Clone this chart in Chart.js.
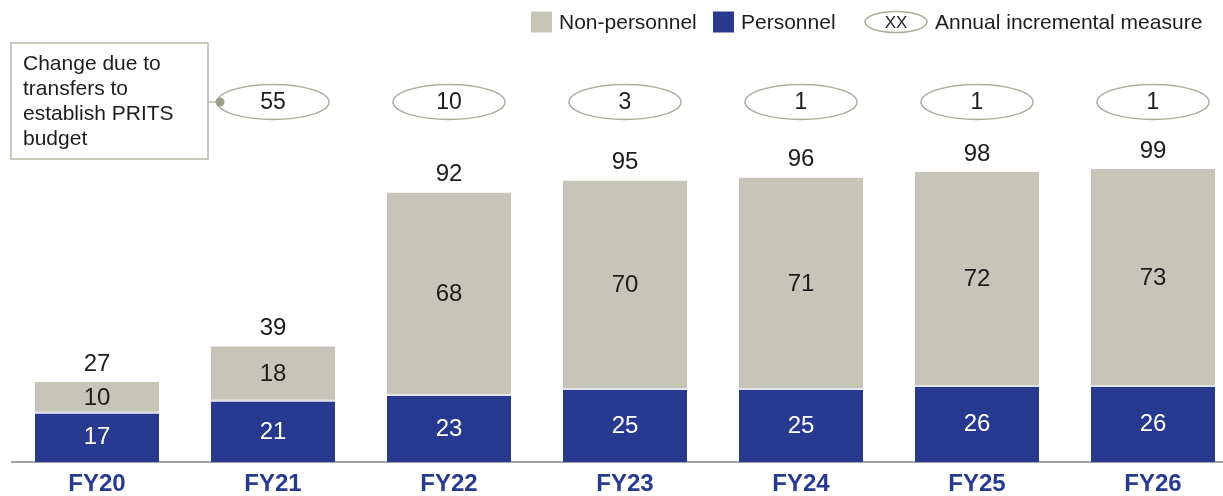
<!DOCTYPE html>
<html>
<head>
<meta charset="utf-8">
<title>Budget by fiscal year</title>
<script src="https://cdn.jsdelivr.net/npm/chart.js@4.4.1/dist/chart.umd.min.js"></script>
<style>
  html, body { margin: 0; padding: 0; background: #fff; }
  #wrap { position: relative; width: 1223px; height: 496px; }
</style>
</head>
<body>
<div id="wrap"><canvas id="budgetChart"></canvas></div>
<script>
// ── Data ──────────────────────────────────────────────────────────────────────
const years        = ['FY20', 'FY21', 'FY22', 'FY23', 'FY24', 'FY25', 'FY26'];
const personnel    = [17, 21, 23, 25, 25, 26, 26];
const nonPersonnel = [10, 18, 68, 70, 71, 72, 73];
const totals       = [27, 39, 92, 95, 96, 98, 99];
const increments   = [null, 55, 10, 3, 1, 1, 1];
const noteLines    = ['Change due to', 'transfers to', 'establish PRITS', 'budget'];

const FONT    = '"Liberation Sans", Arial, Helvetica, sans-serif';
const BLUE    = '#283a90';
const GREY    = '#c6c5b8';
const OUTLINE = '#adac9c';
const INK     = '#1c1c1c';

// ── Baseline across the full width ────────────────────────────────────────────
const baseline = {
  id: 'baseline',
  beforeDatasetsDraw(chart) {
    const ctx = chart.ctx;
    const y = chart.scales.y.getPixelForValue(0);
    ctx.save();
    ctx.strokeStyle = '#a3a3a3';
    ctx.lineWidth = 2;
    ctx.beginPath();
    ctx.moveTo(11, y);
    ctx.lineTo(chart.width, y);
    ctx.stroke();
    ctx.restore();
  }
};

// ── Segment values and totals ─────────────────────────────────────────────────
const barLabels = {
  id: 'barLabels',
  afterDatasetsDraw(chart) {
    const ctx = chart.ctx;
    ctx.save();
    ctx.textAlign = 'center';
    ctx.textBaseline = 'middle';
    ctx.font = '24px ' + FONT;
    chart.data.datasets.forEach(function(ds, di) {
      chart.getDatasetMeta(di).data.forEach(function(bar, i) {
        ctx.fillStyle = ds.labelColor;
        ctx.fillText(ds.data[i], bar.x, (bar.y + bar.base) / 2 + 1);
      });
    });
    ctx.fillStyle = INK;
    chart.getDatasetMeta(1).data.forEach(function(bar, i) {
      ctx.fillText(totals[i], bar.x, bar.y - 18);
    });
    ctx.restore();
  }
};

// ── Incremental measure ovals + note box ──────────────────────────────────────
const measures = {
  id: 'measures',
  afterDraw(chart) {
    const ctx = chart.ctx, xs = chart.scales.x;
    const cy = 102, rx = 56, ry = 17.5;
    ctx.save();
    ctx.lineWidth = 1.5;
    ctx.strokeStyle = OUTLINE;
    ctx.fillStyle = INK;
    ctx.textAlign = 'center';
    ctx.textBaseline = 'middle';
    ctx.font = '23px ' + FONT;
    var firstLeft = null;
    increments.forEach(function(v, i) {
      if (v === null) return;
      var cx = xs.getPixelForValue(i);
      if (firstLeft === null) firstLeft = cx - rx;
      ctx.beginPath();
      ctx.ellipse(cx, cy, rx, ry, 0, 0, Math.PI * 2);
      ctx.stroke();
      ctx.fillText(v, cx, cy + 1);
    });

    // note box pointing at the first oval
    var bx = 11, by = 43, bw = 197, bh = 116;
    ctx.strokeStyle = '#b8b7a8';
    ctx.lineWidth = 1.5;
    ctx.strokeRect(bx, by, bw, bh);
    ctx.beginPath();
    ctx.moveTo(bx + bw, cy);
    ctx.lineTo(firstLeft + 3, cy);
    ctx.stroke();
    ctx.fillStyle = '#9f9f88';
    ctx.beginPath();
    ctx.arc(firstLeft + 3, cy, 4.5, 0, Math.PI * 2);
    ctx.fill();

    ctx.fillStyle = INK;
    ctx.textAlign = 'left';
    ctx.font = '21px ' + FONT;
    noteLines.forEach(function(line, k) {
      ctx.fillText(line, bx + 12, by + 21 + k * 25);
    });
    ctx.restore();
  }
};

// ── Legend (top right) ────────────────────────────────────────────────────────
const topLegend = {
  id: 'topLegend',
  afterDraw(chart) {
    const ctx = chart.ctx, ds = chart.data.datasets;
    const cy = 22;
    ctx.save();
    ctx.textBaseline = 'middle';
    ctx.textAlign = 'left';
    ctx.font = '21px ' + FONT;
    ctx.fillStyle = ds[1].backgroundColor;
    ctx.fillRect(531, cy - 10.5, 21, 21);
    ctx.fillStyle = INK;
    ctx.fillText(ds[1].label, 559, cy + 1);
    ctx.fillStyle = ds[0].backgroundColor;
    ctx.fillRect(713, cy - 10.5, 21, 21);
    ctx.fillStyle = INK;
    ctx.fillText(ds[0].label, 741, cy + 1);

    ctx.strokeStyle = OUTLINE;
    ctx.lineWidth = 1.5;
    ctx.beginPath();
    ctx.ellipse(896, cy, 31, 10.5, 0, 0, Math.PI * 2);
    ctx.stroke();
    ctx.textAlign = 'center';
    ctx.font = '17px ' + FONT;
    ctx.fillText('XX', 896, cy + 1);
    ctx.textAlign = 'left';
    ctx.font = '21px ' + FONT;
    ctx.fillText('Annual incremental measure', 935, cy + 1);
    ctx.restore();
  }
};

// ── Chart ─────────────────────────────────────────────────────────────────────
new Chart(document.getElementById('budgetChart'), {
  type: 'bar',
  data: {
    labels: years,
    datasets: [
      { label: 'Personnel', data: personnel, backgroundColor: BLUE,
        borderColor: '#e3e4ec', borderWidth: { top: 2, left: 0, right: 0, bottom: 0 },
        borderSkipped: 'bottom', clip: false, labelColor: '#ffffff' },
      { label: 'Non-personnel', data: nonPersonnel, backgroundColor: GREY,
        borderWidth: 0, clip: false, labelColor: INK }
    ]
  },
  options: {
    responsive: true,
    maintainAspectRatio: false,
    animation: false,
    categoryPercentage: 1,
    barPercentage: 0.705,
    layout: { padding: { left: 97, right: 70, top: 166, bottom: -10 } },
    plugins: { legend: { display: false }, tooltip: { enabled: false } },
    scales: {
      x: {
        stacked: true,
        offset: false,
        grid: { display: false, offset: false, drawTicks: false, tickLength: 0 },
        border: { display: false },
        ticks: { color: BLUE, padding: 10, font: { family: FONT, size: 24, weight: 'bold', lineHeight: 1 } }
      },
      y: { stacked: true, display: false, min: 0, max: 100 }
    }
  },
  plugins: [baseline, barLabels, measures, topLegend]
});
</script>
</body>
</html>
